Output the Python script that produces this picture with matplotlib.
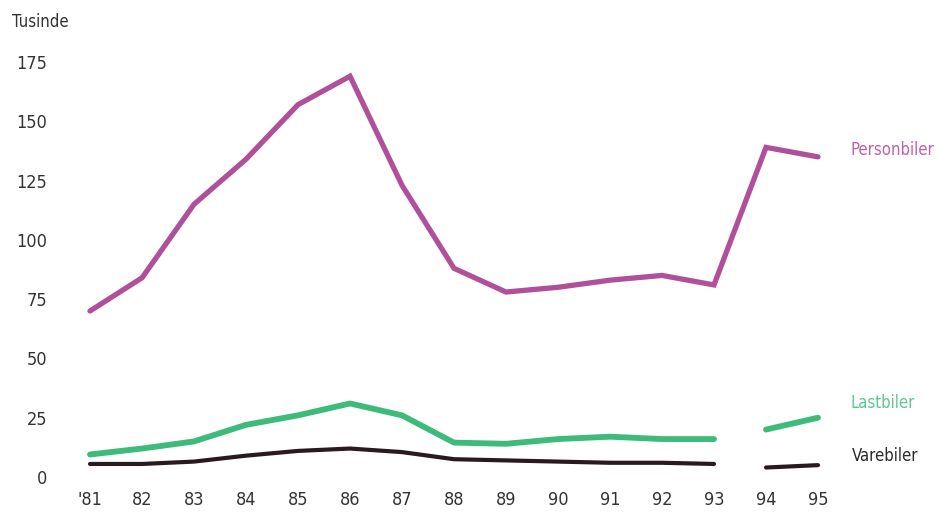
import numpy as np
import matplotlib
matplotlib.use("Agg")
from matplotlib import pyplot as plt

plt.rcParams['font.family'] = ['DejaVu Sans']
plt.rcParams['font.stretch'] = 'condensed'

years = ["'81", "82", "83", "84", "85", "86", "87", "88", "89", "90",
         "91", "92", "93", "94", "95"]
personbiler = [70, 84, 115, 134, 157, 169, 123, 88, 78, 80, 83, 85, 81, 139, 135]
lastbiler = [9.5, 12, 15, 22, 26, 31, 26, 14.5, 14, 16, 17, 16, 16, np.nan, 20, 25]
varebiler = [5.5, 5.5, 6.5, 9, 11, 12, 10.5, 7.5, 7, 6.5, 6, 6, 5.5, np.nan, 4, 5]
# gap between 93 and 94 for the two small series
gap_x = list(range(13)) + [12.5, 13, 14]

fig = plt.figure(figsize=(9.39, 5.12), dpi=100)
ax = fig.add_axes([90 / 939, 35 / 512, 728 / 939, 415 / 512])

x = np.arange(len(years))
ax.plot(x, personbiler, color="#b0509a", lw=3.8, solid_capstyle="round",
        solid_joinstyle="miter", clip_on=False)
ax.plot(gap_x, lastbiler, color="#3dbb7a", lw=4.2, solid_capstyle="round",
        clip_on=False)
ax.plot(gap_x, varebiler, color="#2a1a1e", lw=3.0, solid_capstyle="round",
        clip_on=False)

ax.set_xlim(0, 14)
ax.set_ylim(0, 175)
ax.set_yticks([0, 25, 50, 75, 100, 125, 150, 175])
ax.set_xticks(x)
ax.set_xticklabels(years)
ax.tick_params(axis="both", length=0, labelsize=13, labelcolor="#333333")
ax.tick_params(axis="y", pad=31)
ax.tick_params(axis="x", pad=10)
for s in ax.spines.values():
    s.set_visible(False)

fig.text(12 / 939, 1 - 22 / 512, "Tusinde", fontsize=12, color="#333333",
         va="center", ha="left")
fig.text(850 / 939, 1 - 150 / 512, "Personbiler", fontsize=12, color="#c060a8",
         va="center", ha="left")
fig.text(850 / 939, 1 - 403 / 512, "Lastbiler", fontsize=12, color="#5cc890",
         va="center", ha="left")
fig.text(852 / 939, 1 - 456 / 512, "Varebiler", fontsize=12, color="#2a2a2a",
         va="center", ha="left")

plt.savefig("out.png", dpi=100)
